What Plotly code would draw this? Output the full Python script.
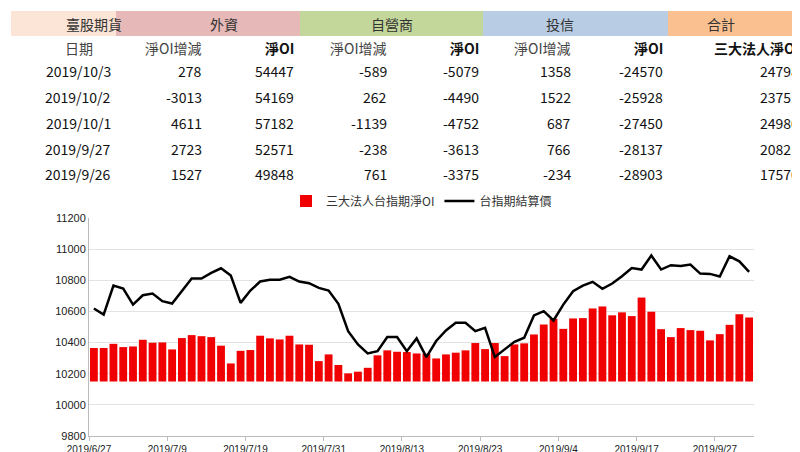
import plotly.graph_objects as go
import pandas as pd

# ---- data ----
bdays = pd.bdate_range("2019-06-27", "2019-10-02")
holidays = [pd.Timestamp("2019-08-09"), pd.Timestamp("2019-09-13")]
dates = [d for d in bdays if d not in holidays]
date_labels = [f"{d.year}/{d.month}/{d.day}" for d in dates]

oi_bar = [10365,10365,10392,10371,10375,10418,10399,10401,10356,10429,10448,10441,10435,10380,10266,10347,10352,10444,10427,10420,
          10444,10388,10386,10281,10324,10256,10202,10213,10238,10318,10350,10341,10339,10330,10328,10298,10324,10335,10350,10397,
          10358,10397,10313,10388,10395,10452,10516,10553,10488,10555,10557,10619,10632,10575,10594,10570,10689,10598,10486,10435,
          10493,10480,10476,10414,10454,10514,10582,10561]
settle = [10619,10580,10766,10747,10644,10704,10715,10666,10651,10734,10811,10811,10847,10877,10830,10655,10734,10792,10803,10803,
          10822,10792,10781,10751,10734,10649,10473,10388,10330,10345,10435,10435,10345,10427,10307,10410,10478,10527,10527,10473,
          10495,10307,10356,10405,10431,10574,10602,10542,10644,10730,10766,10790,10745,10779,10826,10879,10869,10959,10869,10897,
          10892,10901,10843,10841,10824,10954,10922,10854]
bar_base = 10150

groups = ["臺股期貨", "外資", "自營商", "投信", "合計"]
group_colors = ["#FCE4D6", "#E6B8B7", "#C4D79B", "#B8CCE4", "#FAC090"]
sub_headers = ["日期", "淨OI增減", "淨OI", "淨OI增減", "淨OI", "淨OI增減", "淨OI", "三大法人淨OI"]
table_dates = ["2019/10/3", "2019/10/2", "2019/10/1", "2019/9/27", "2019/9/26"]
fi_chg = [278, -3013, 4611, 2723, 1527]
fi_oi = [54447, 54169, 57182, 52571, 49848]
dl_chg = [-589, 262, -1139, -238, 761]
dl_oi = [-5079, -4490, -4752, -3613, -3375]
it_chg = [1358, 1522, 687, 766, -234]
it_oi = [-24570, -25928, -27450, -28137, -28903]
total_oi = [24798, 23751, 24980, 20821, 17570]

# ---- layout helpers (pixel -> paper) ----
W, H = 800, 452
L, R = 81, 746
T, B = 0, 24
PH = H - T - B
def px(x): return (x - L) / (R - L)
def py(y): return (H - B - y) / PH

x = list(range(len(dates)))
fig = go.Figure()
fig.add_trace(go.Bar(x=x, y=[v - bar_base for v in oi_bar], base=bar_base, marker_color="#F00000",
                     marker_line_width=0, width=0.8, name="三大法人台指期淨OI"))
fig.add_trace(go.Scatter(x=x, y=settle, mode="lines", line=dict(color="black", width=2.5),
                         name="台指期結算價"))

tickidx = list(range(0, len(dates), 8))
fig.update_xaxes(range=[-0.5, len(dates) - 0.5], tickvals=[i - 0.5 for i in tickidx],
                 ticktext=[date_labels[i] for i in tickidx], showline=True, linecolor="#BBBBBB",
                 ticks="outside", ticklen=4, tickcolor="#BBBBBB", showgrid=False, automargin=False,
                 tickfont=dict(family="Liberation Sans", size=10, color="#222"))
fig.update_yaxes(range=[9800, 11200], dtick=200, tickformat="d", showgrid=True, gridcolor="#E3E3E3",
                 showline=True, linecolor="#BBBBBB", automargin=False,
                 tickfont=dict(family="Liberation Sans", size=11, color="#222"),
                 domain=[0, py(210)], zeroline=False)

shapes = []
ann = []
bands = [(3, 108), (108, 292), (292, 475), (475, 660), (660, 797)]
for (a, b), g, c in zip(bands, groups, group_colors):
    shapes.append(dict(type="rect", xref="paper", yref="paper", x0=px(a), x1=px(b), y0=py(28), y1=py(3),
                       fillcolor=c, line_width=0, layer="below"))
    ann.append(dict(x=px((a + b) / 2), y=py(15.5), text=g, showarrow=False, xref="paper", yref="paper",
                    yanchor="middle", font=dict(family="Noto Sans CJK TC", size=14, color="#333")))

font_t = dict(family="Noto Sans CJK TC", size=14, color="#111")
col_right = [105, 196, 288, 381, 473, 565, 657, 793]
for i, h in enumerate(sub_headers):
    bold = h in ("淨OI", "三大法人淨OI")
    t = f"<b>{h}</b>" if bold else h
    if i == 0:
        ann.append(dict(x=px(55), y=py(40), text=t, showarrow=False, xref="paper", yref="paper",
                        yanchor="middle", font=dict(family="Noto Sans CJK TC", size=14, color="#444")))
    else:
        ann.append(dict(x=px(col_right[i]), y=py(40), text=t, showarrow=False, xref="paper", yref="paper",
                        xanchor="right", yanchor="middle",
                        font=dict(family="Noto Sans CJK TC", size=14, color="#444" if not bold else "#111")))
cols = [table_dates, fi_chg, fi_oi, dl_chg, dl_oi, it_chg, it_oi, total_oi]
row_y = [63, 89, 115, 141, 166]
for r, yy in enumerate(row_y):
    for c, col in enumerate(cols):
        ann.append(dict(x=px(col_right[c]), y=py(yy), text=str(col[r]), showarrow=False, xref="paper",
                        yref="paper", xanchor="right", yanchor="middle", font=font_t))

fig.update_layout(width=W, height=H, margin=dict(l=L, r=W - R, t=T, b=B, autoexpand=False),
                  plot_bgcolor="white", paper_bgcolor="white", shapes=shapes, annotations=ann, bargap=0.2,
                  legend=dict(orientation="h", x=0.5, xanchor="center", y=py(193), yanchor="middle",
                              font=dict(family="Noto Sans CJK TC", size=12, color="#333"),
                              traceorder="normal"))
fig.write_html("out.html")
